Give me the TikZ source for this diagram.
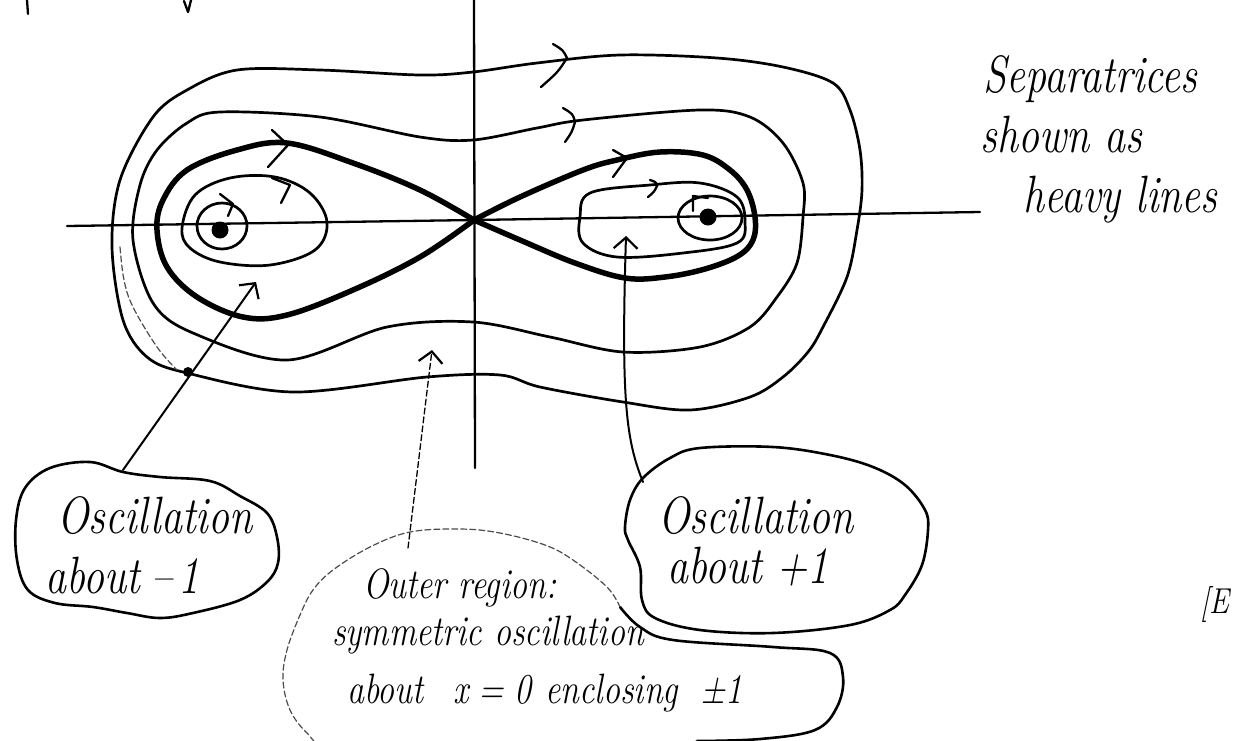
\documentclass[tikz,border=0pt]{standalone}
\usetikzlibrary{arrows.meta}
\begin{document}
\begin{tikzpicture}[x=1pt,y=-1pt,line cap=round,line join=round,
 orbit/.style={line width=2.7pt},
 sepx/.style={line width=5.5pt},
 chev/.style={line width=2.3pt},
 axisline/.style={line width=2.3pt},
 leader/.style={line width=2pt,-{Straight Barb[length=11pt,width=24pt,line width=2.2pt]}},
 faint/.style={line width=1.2pt,dash pattern=on 6pt off 3pt,black!70},
 bubble/.style={line width=2.6pt},
 big/.style={font=\fontsize{42}{48}\selectfont\itshape,inner sep=0pt,anchor=base west},
 mid/.style={font=\fontsize{34}{40}\selectfont\itshape,inner sep=0pt,anchor=base west}]
\useasboundingbox (0,0) rectangle (1234,740);
\fill[white] (0,0) rectangle (1234,740);
\begin{scope}
\clip (0,0) rectangle (1234,740);

% axes
\draw[axisline] (67,226) -- (474,220) -- (980,212);
\draw[axisline] (474,0) -- (475,468);

% small marks at top edge
\draw[chev] (27,0) -- (28,14);
\draw[chev] (184,1) -- (188,12) -- (191,0);

% outermost orbit
\draw[orbit] plot[smooth cycle,tension=0.55] coordinates {(112,247) (120,180) (153,117) (187,90) (237,70) (320,70) (420,75) (473,72) (537,63) (620,55) (717,58) (783,67) (833,83) (850,110) (860,150) (862,190) (857,230) (847,277) (823,327) (808,352) (783,377) (750,397) (690,410) (623,402) (540,387) (500,375) (427,377) (293,392) (187,373) (147,357) (123,320)};
% faint extra curve on left
\draw[faint] plot[smooth,tension=0.6] coordinates {(120,247) (124,280) (133,307) (157,347) (177,370)};

% middle orbit
\draw[orbit] plot[smooth cycle,tension=0.55] coordinates {(133,240) (140,185) (157,150) (187,123) (220,112) (320,117) (420,137) (473,140) (537,128) (583,120) (700,110) (750,117) (783,143) (803,183) (803,217) (797,263) (777,297) (750,327) (700,347) (623,352) (550,337) (473,322) (387,327) (287,360) (193,333) (153,303)};

% separatrix (heavy)
\draw[sepx] plot[smooth,tension=0.6] coordinates {(474,220) (420,190) (353,163) (287,143) (237,150) (187,170) (163,200) (157,230) (167,267) (197,297) (243,317) (287,315) (353,290) (420,257) (474,220)};
\draw[sepx] plot[smooth,tension=0.6] coordinates {(474,220) (520,197) (583,170) (617,160) (660,152) (703,155) (730,170) (747,190) (755,217) (753,240) (738,256) (705,269) (665,277) (625,278) (575,263) (520,240) (474,220)};

% inner orbits left
\draw[orbit] plot[smooth cycle,tension=0.6] coordinates {(182,228) (195,195) (230,178) (275,177) (310,193) (327,222) (315,250) (270,265) (220,262) (190,248)};
\draw[orbit] (222,226) ellipse[x radius=25,y radius=23];
\fill (220,230) circle[radius=8.5];

% inner orbits right
\draw[orbit] plot[smooth cycle,tension=0.6] coordinates {(580,217) (590,193) (650,185) (700,183) (737,197) (745,222) (737,243) (683,253) (617,257) (583,243)};
\draw[orbit] (710,218) ellipse[x radius=32,y radius=22];
\fill (708,217) circle[radius=8.5];

% direction chevrons
\draw[chev] (553,44) .. controls (563,50) .. (567,58) .. controls (558,72) .. (541,87);
\draw[chev] (563,108) .. controls (573,114) .. (575,122) .. controls (572,132) .. (565,142);
\draw[chev] (272,130) -- (288,145) -- (268,167);
\draw[chev] (272,178) -- (290,185) -- (281,203);
\draw[chev] (220,194) -- (233,204) -- (228,216);
\draw[chev] (613,150) -- (627,158) -- (613,177);
\draw[chev] (650,180) .. controls (656,182) .. (657,186) .. controls (654,192) .. (648,197);
\draw[chev] (708,198) -- (693,196) -- (693,211);

% bubble: oscillation about -1
\draw[bubble] plot[smooth cycle,tension=0.6] coordinates {(123,472) (160,477) (210,481) (240,496) (267,513) (277,537) (278,563) (267,582) (240,600) (193,613) (160,618) (127,613) (93,607) (55,603) (28,590) (17,560) (16,520) (25,488) (50,468) (90,462)};
\node[big] (tm1a) at (57,533) {\scalebox{1}[1.25]{Oscillation}};
\node[big] (tm1b) at (45,593) {\scalebox{1}[1.25]{about\hspace{12pt}–\hspace{6pt}1}};

% bubble: oscillation about +1
\draw[bubble] plot[smooth cycle,tension=0.6] coordinates {(643,478) (670,458) (700,448) (773,447) (830,455) (873,467) (905,485) (925,510) (928,530) (922,565) (905,595) (890,610) (850,625) (773,633) (700,630) (655,618) (642,600) (640,567) (628,540) (625,527) (630,500)};
\node[big] (tp1a) at (658,533) {\scalebox{1}[1.25]{Oscillation}};
\node[big] (tp1b) at (667,583) {\scalebox{1}[1.25]{about +1}};

% bubble: outer region
\draw[bubble] plot[smooth,tension=0.6] coordinates {(620,607) (640,627) (673,640) (773,647) (830,653) (843,677) (837,707) (815,730) (760,739) (697,741)};
\draw[faint] plot[smooth,tension=0.6] coordinates {(697,741) (600,760) (420,760) (330,748) (307,733) (290,710) (283,680) (287,650) (300,615) (313,590) (333,570) (370,547) (410,532) (460,529) (500,533) (545,545) (573,560) (607,587) (620,607)};
\node[mid] (to1) at (363,598) {\scalebox{1}[1.25]{Outer region:}};
\node[mid] (to2) at (332,645) {\scalebox{1}[1.25]{symmetric oscillation}};
\node[mid] (to3) at (347,703) {\scalebox{1}[1.25]{about\hspace{30pt}x\hspace{10pt}=\hspace{10pt}0\hspace{14pt}enclosing\hspace{22pt}±1}};

% separatrix note
\node[big] (ts1) at (983,92) {\scalebox{1}[1.25]{Separatrices}};
\node[big] (ts2) at (980,152) {\scalebox{1}[1.25]{shown as}};
\node[big] (ts3) at (1023,212) {\scalebox{1}[1.25]{heavy lines}};

% text at right edge
\node[font=\fontsize{30}{36}\selectfont\itshape,inner sep=0pt,anchor=base west] (tex) at (1200,613) {\scalebox{1}[1.2]{[E}};

% leaders
\coordinate (m1s) at (123,470);
\coordinate (m1t) at (256,282);
\draw[leader] (m1s) -- (m1t);
\fill (188,372) circle[radius=5];
\coordinate (p1s) at (643,482);
\coordinate (p1t) at (626,236);
\draw[leader] (p1s) .. controls (626,440) and (621,400) .. (p1t);
\coordinate (o1s) at (408,548);
\coordinate (o1t) at (432,350);
\draw[leader,line width=1.3pt,dash pattern=on 6pt off 3pt] (o1s) -- (o1t);
\end{scope}
\end{tikzpicture}
\end{document}
